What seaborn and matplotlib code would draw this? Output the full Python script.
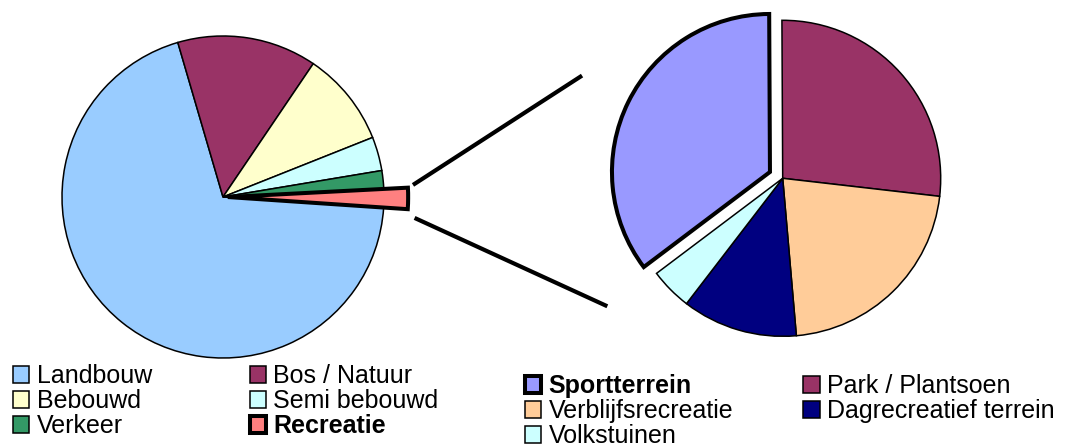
import matplotlib
matplotlib.use("Agg")
import matplotlib.pyplot as plt
import seaborn as sns
from matplotlib.patches import ConnectionPatch

sns.set_theme(style="white")
plt.rcParams['font.family'] = ['Liberation Sans', 'DejaVu Sans']
plt.rcParams['text.color'] = 'black'

# ---- data ----
land_labels = ["Landbouw", "Bos / Natuur", "Bebouwd", "Semi bebouwd", "Verkeer", "Recreatie"]
land_values = [69.4, 14.0, 9.5, 3.4, 1.8, 1.9]
land_colors = ["#99CCFF", "#993366", "#FFFFCC", "#CCFFFF", "#339966", "#FF8080"]

rec_labels = ["Sportterrein", "Park / Plantsoen", "Verblijfsrecreatie", "Dagrecreatief terrein", "Volkstuinen"]
rec_values = [35.2, 26.9, 21.8, 11.8, 4.3]
rec_colors = ["#9999FF", "#993366", "#FFCC99", "#000080", "#CCFFFF"]

W, H = 1071, 444
fig = plt.figure(figsize=(W / 100, H / 100), dpi=100)
SPAN = 1.5


def pie_axes(cx, cy, r):
    ax = fig.add_axes([(cx - SPAN * r) / W, (H - cy - SPAN * r) / H,
                       2 * SPAN * r / W, 2 * SPAN * r / H])
    return ax


thin, thick = 1.1, 2.9

# left pie
ax1 = pie_axes(223, 197, 161)
start1 = 106.3 + 360 * land_values[0] / sum(land_values)
w1, _ = ax1.pie(land_values, colors=land_colors, startangle=start1, counterclock=False,
                explode=[0, 0, 0, 0, 0, 0.03],
                wedgeprops=dict(edgecolor="black", linewidth=thin, joinstyle="miter"))
w1[-1].set_linewidth(thick)
w1[-1].set_radius(1.12)
w1[-1].set_zorder(3)
ax1.set_xlim(-SPAN, SPAN)
ax1.set_ylim(-SPAN, SPAN)
ax1.axis("off")

# right pie
ax2 = pie_axes(782.7, 178.3, 158)
w2, _ = ax2.pie(rec_values, colors=rec_colors, startangle=217, counterclock=False,
                explode=[0.09, 0, 0, 0, 0],
                wedgeprops=dict(edgecolor="black", linewidth=thin, joinstyle="miter"))
w2[0].set_linewidth(thick)
w2[0].set_zorder(3)
ax2.set_xlim(-SPAN, SPAN)
ax2.set_ylim(-SPAN, SPAN)
ax2.axis("off")

# connector lines between the exploded slice and the detail pie
for p1, p2 in [((1.18, 0.075), (-1.27, 0.65)), ((1.19, -0.13), (-1.11, -0.81))]:
    con = ConnectionPatch(xyA=p1, coordsA=ax1.transData, xyB=p2, coordsB=ax2.transData,
                          color="black", linewidth=3.0, capstyle="butt")
    fig.add_artist(con)

# legends
order1 = [0, 2, 4, 1, 3, 5]
leg1 = fig.legend([w1[i] for i in order1], [land_labels[i] for i in order1],
                  loc="upper left", bbox_to_anchor=(13 / W, (H - 364) / H),
                  ncol=2, frameon=False, fontsize=18, handlelength=0.65, handleheight=0.65,
                  handletextpad=0.3, columnspacing=3.9, labelspacing=0.04,
                  borderpad=0, borderaxespad=0, labelcolor="black")
for t in leg1.get_texts():
    if t.get_text() == "Recreatie":
        t.set_fontweight("bold")

order2 = [0, 2, 4, 1, 3]
leg2 = fig.legend([w2[i] for i in order2], [rec_labels[i] for i in order2],
                  loc="upper left", bbox_to_anchor=(525 / W, (H - 374) / H),
                  ncol=2, frameon=False, fontsize=18, handlelength=0.65, handleheight=0.65,
                  handletextpad=0.3, columnspacing=2.8, labelspacing=0.04,
                  borderpad=0, borderaxespad=0, labelcolor="black")
for t in leg2.get_texts():
    if t.get_text() == "Sportterrein":
        t.set_fontweight("bold")

fig.savefig("out.png", dpi=100)
